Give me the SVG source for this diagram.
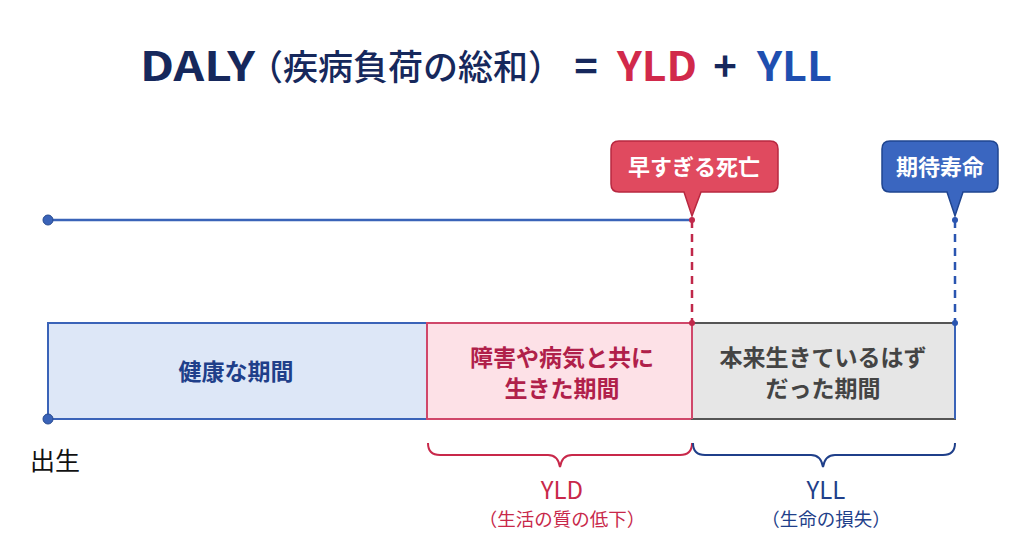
<svg xmlns="http://www.w3.org/2000/svg" width="1024" height="552" viewBox="0 0 1024 552">
<style>
text{font-family:"Noto Sans CJK JP","Noto Sans",sans-serif}
.title{font-size:40px;font-weight:700}
.sub{font-size:35px;font-weight:500}
.call{font-size:22px;font-weight:700;fill:#fff;text-anchor:middle}
.box{font-size:23px;font-weight:700;text-anchor:middle}
.lbl{text-anchor:middle}
</style>
<rect width="1024" height="552" fill="#fff"/>
<g id="title">
<text x="140" y="81" class="title" fill="#16285c" textLength="115" lengthAdjust="spacingAndGlyphs">DALY</text>
<text x="248" y="80" class="sub" fill="#16285c">（疾病負荷の総和）</text>
<text x="586" y="81" class="title" fill="#16285c" text-anchor="middle">=</text>
<text x="617" y="81" class="title" fill="#d1294b" textLength="80" lengthAdjust="spacingAndGlyphs">YLD</text>
<text x="725" y="81" class="title" fill="#16285c" text-anchor="middle">+</text>
<text x="757" y="81" class="title" fill="#1f4fb0" textLength="75" lengthAdjust="spacingAndGlyphs">YLL</text>
</g>
<g id="connectors">
<line x1="48" y1="220" x2="692" y2="220" stroke="#3a63b8" stroke-width="2.5"/>
<line x1="692" y1="220" x2="692" y2="323" stroke="#c0284a" stroke-width="2.5" stroke-dasharray="8,6"/>
<line x1="955" y1="220" x2="955" y2="323" stroke="#2a55b0" stroke-width="2.5" stroke-dasharray="8,6"/>
<circle cx="48" cy="220" r="5" fill="#3a63b8" stroke="#274a90" stroke-width="1"/>
<circle cx="692" cy="220" r="3" fill="#c0284a"/>
<circle cx="955" cy="220" r="3" fill="#2a55b0"/>
</g>
<g id="healthy">
<rect x="48" y="323" width="379" height="96" fill="#dde7f7" stroke="#3a63b8" stroke-width="2"/>
<text x="236" y="380" class="box" fill="#1f3f8a">健康な期間</text>
</g>
<g id="yld-box">
<rect x="427" y="323" width="265" height="96" fill="#fde1e7" stroke="#d0476a" stroke-width="2"/>
<text x="562" y="366" class="box" fill="#b0204a">障害や病気と共に</text>
<text x="562" y="397" class="box" fill="#b0204a">生きた期間</text>
</g>
<g id="yll-box">
<rect x="692" y="323" width="263" height="96" fill="#e6e6e6" stroke="#555" stroke-width="2"/>
<line x1="955" y1="323" x2="955" y2="419" stroke="#3a63b8" stroke-width="2"/>
<line x1="692" y1="323" x2="692" y2="419" stroke="#d0476a" stroke-width="2"/>
<circle cx="692" cy="323" r="3" fill="#c0284a"/>
<circle cx="955" cy="323" r="3" fill="#2a55b0"/>
<text x="823" y="366" class="box" fill="#444">本来生きているはず</text>
<text x="823" y="397" class="box" fill="#444">だった期間</text>
</g>
<g id="birth">
<circle cx="48" cy="419" r="5" fill="#3a63b8" stroke="#274a90" stroke-width="1"/>
<text x="30" y="470" font-size="25" fill="#111">出生</text>
</g>
<g id="death">
<path d="M619,141 H770 Q778,141 778,149 V184 Q778,192 770,192 H701 L692,216 L684,192 H619 Q611,192 611,184 V149 Q611,141 619,141 Z" fill="#e04a5f" stroke="#b82840" stroke-width="1.5"/>
<text x="694" y="175" class="call">早すぎる死亡</text>
</g>
<g id="life">
<path d="M890,141 H990 Q998,141 998,149 V184 Q998,192 990,192 H963 L955,216 L947,192 H890 Q882,192 882,184 V149 Q882,141 890,141 Z" fill="#3a66c0" stroke="#1f4590" stroke-width="1.5"/>
<text x="940" y="175" class="call">期待寿命</text>
</g>
<g id="yld">
<path d="M428,443 Q428,455 440,455 H548 Q558,455 560,467 Q562,455 572,455 H680 Q692,455 692,443" fill="none" stroke="#c8284a" stroke-width="2"/>
<text x="562" y="499" class="lbl" font-size="24" fill="#c8284a">YLD</text>
<text x="562" y="526" class="lbl" font-size="18.5" fill="#c8284a">（生活の質の低下）</text>
</g>
<g id="yll">
<path d="M693,443 Q693,455 705,455 H811 Q821,455 823,467 Q825,455 835,455 H943 Q955,455 955,443" fill="none" stroke="#1f3f8a" stroke-width="2"/>
<text x="826" y="499" class="lbl" font-size="24" fill="#1f3f8a">YLL</text>
<text x="826" y="526" class="lbl" font-size="18.5" fill="#1f3f8a">（生命の損失）</text>
</g>
</svg>
